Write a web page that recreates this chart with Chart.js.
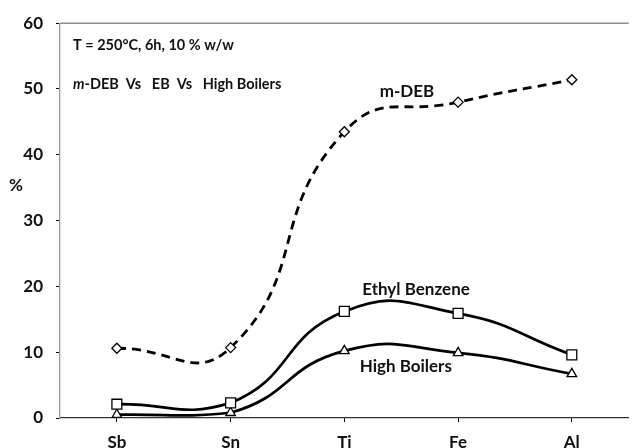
<!DOCTYPE html>
<html>
<head>
<meta charset="utf-8">
<script src="https://cdn.jsdelivr.net/npm/chart.js@4"></script>
<style>
  html, body { margin: 0; padding: 0; background: #fff; overflow: hidden; }
</style>
</head>
<body>
<canvas id="LineChart" width="637" height="448"></canvas>
<script>
        // Data
        const catalysts = ['Sb', 'Sn', 'Ti', 'Fe', 'Al'];
        const mdebValues = [10.6, 10.7, 43.5, 48.0, 51.4];
        const ethylBenzeneValues = [2.1, 2.3, 16.2, 15.9, 9.6];
        const highBoilerValues = [0.5, 0.8, 10.2, 9.9, 6.7];
        const yTicks = [0, 10, 20, 30, 40, 50, 60];

        // Series labels placed in data coordinates [text, category index, value]
        const seriesLabels = [
            ['m-DEB', 2.55, 49.6],
            ['Ethyl Benzene', 2.63, 19.5],
            ['High Boilers', 2.54, 7.9]
        ];

        const FONT = 'Lato, "Open Sans", sans-serif';

        // Draws the free text, top border and the % label
        const textPlugin = {
            id: 'texts',
            afterDatasetsDraw(chart) {
                const ctx = chart.ctx;
                const area = chart.chartArea;
                const x = chart.scales.x;
                const y = chart.scales.y;
                ctx.save();

                // top border
                ctx.strokeStyle = '#8c8c8c';
                ctx.lineWidth = 1.5;
                ctx.beginPath();
                ctx.moveTo(area.left, area.top);
                ctx.lineTo(area.right, area.top);
                ctx.stroke();

                ctx.fillStyle = '#111';
                ctx.textBaseline = 'middle';

                // % axis label
                ctx.font = 'bold 17px ' + FONT;
                ctx.textAlign = 'center';
                ctx.fillText('%', 16, y.getPixelForValue(35.3));

                // condition notes
                ctx.textAlign = 'left';
                ctx.font = 'bold 14.5px ' + FONT;
                ctx.fillText('T = 250°C, 6h, 10 % w/w', area.left + 13, y.getPixelForValue(56.7));
                ctx.font = 'italic bold 14.5px ' + FONT;
                let px = area.left + 13;
                const py = y.getPixelForValue(50.7);
                ctx.fillText('m', px, py);
                px += ctx.measureText('m').width;
                ctx.font = 'bold 14.5px ' + FONT;
                ctx.fillText('-DEB  Vs   EB  Vs   High Boilers', px, py);

                // series labels
                ctx.textAlign = 'center';
                ctx.font = 'bold 17px ' + FONT;
                seriesLabels.forEach(([t, i, v]) => {
                    ctx.fillText(t, x.getPixelForValue(i), y.getPixelForValue(v));
                });
                ctx.restore();
            }
        };

        const data = {
            labels: catalysts,
            datasets: [{
                label: 'm-DEB',
                data: mdebValues,
                borderColor: '#000',
                borderWidth: 2.8,
                borderDash: [9, 6],
                pointStyle: 'rectRot',
                pointRadius: 5,
                pointBackgroundColor: '#fff',
                pointBorderColor: '#000',
                pointBorderWidth: 1.3
            }, {
                label: 'Ethyl Benzene',
                data: ethylBenzeneValues,
                borderColor: '#000',
                borderWidth: 2.7,
                pointStyle: 'rect',
                pointRadius: 7,
                pointBackgroundColor: '#fff',
                pointBorderColor: '#000',
                pointBorderWidth: 1.3
            }, {
                label: 'High Boilers',
                data: highBoilerValues,
                borderColor: '#000',
                borderWidth: 2.7,
                pointStyle: 'triangle',
                pointRadius: 5.5,
                pointBackgroundColor: '#fff',
                pointBorderColor: '#000',
                pointBorderWidth: 1.3
            }]
        };

        const chart = new Chart(document.getElementById('LineChart').getContext('2d'), {
            type: 'line',
            data: data,
            options: {
                responsive: false,
                animation: false,
                layout: { padding: { top: 18, left: 0, right: 0, bottom: 0 } },
                elements: { line: { tension: 0.5, fill: false } },
                plugins: {
                    legend: { display: false },
                    tooltip: { enabled: false }
                },
                scales: {
                    x: {
                        offset: true,
                        afterFit: s => { s.height = 30; },
                        border: { color: '#333', width: 1.3 },
                        grid: { drawOnChartArea: false, color: '#000', tickLength: 4 },
                        ticks: {
                            padding: 10,
                            color: '#111',
                            font: { family: FONT, size: 17, weight: 'bold' }
                        }
                    },
                    y: {
                        min: 0,
                        max: 60,
                        afterFit: s => { s.width = 60; },
                        afterBuildTicks: s => { s.ticks = yTicks.map(v => ({ value: v })); },
                        border: { color: '#999', width: 1.3 },
                        grid: { drawOnChartArea: false, color: '#000', tickLength: 4 },
                        ticks: {
                            padding: 13,
                            color: '#111',
                            font: { family: FONT, size: 17, weight: 'bold' }
                        }
                    }
                }
            },
            plugins: [textPlugin]
        });
</script>
</body>
</html>
